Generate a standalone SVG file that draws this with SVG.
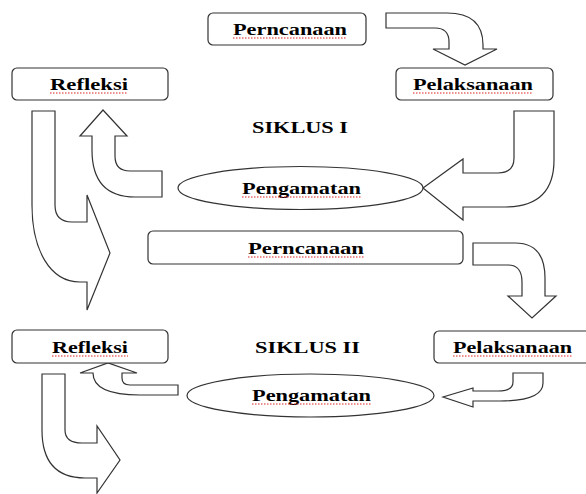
<svg xmlns="http://www.w3.org/2000/svg" width="586" height="494" viewBox="0 0 586 494">
<style>
.box{fill:#fff;stroke:#333;stroke-width:1.2}
.arr{fill:#fff;stroke:#333;stroke-width:1.2;stroke-linejoin:miter}
.t{font-family:"Liberation Serif","Times New Roman",serif;font-weight:bold;font-size:17px;fill:#000}
.sp{stroke:#d22;stroke-width:1.2;stroke-dasharray:1.5 1.5;fill:none}
</style>
<rect width="586" height="494" fill="#fff"/>
<g id="connectors">
<path class="arr" d="M386,13 L447,13 Q483,13 483,45 L483,49 L497,49 L465,65 L433,49 L449,49 L449,42 Q449,28 435,28 L386,28 Z"/>
<path class="arr" d="M514,111 L514,158 Q514,173 498,173 L463,173 L463,159 L423,188 L463,220 L463,207 L505,207 Q554,207 554,160 L554,111 Z"/>
<path class="arr" d="M162,171 L130,171 Q115,171 115,156 L115,136 L127,136 L103,110 L80,136 L92,136 L92,150 Q92,197 135,197 L162,197 Z"/>
<path class="arr" d="M32,111 L55,111 L55,205 Q55,222 72,222 L87,222 L87,195 L110,253 L87,310 L87,282 L80,282 C50,282 32,250 32,205 Z"/>
<path class="arr" d="M473,243 L515,243 Q545,243 545,278 L545,296 L556,296 L532,318 L508,296 L522,296 L522,282 Q522,265 508,265 L473,265 Z"/>
<path class="arr" d="M513,373 L513,382 Q513,391 498,391 L473,391 L473,388 L443,397 L473,407 L473,401 L500,401 Q543,401 543,383 L543,373 Z"/>
<path class="arr" d="M178,385 L130,385 Q122,385 122,378 L122,373 L137,373 L108,363 L80,373 L93,373 Q93,395 140,395 L178,395 Z"/>
<path class="arr" d="M42,374 L65,374 L65,430 Q65,443 82,443 L97,443 L97,426 L120,460 L97,493 L97,478 L85,478 C55,478 42,460 42,430 Z"/>
</g>
<g id="n-perencanaan1">
<rect class="box" x="208" y="13" width="158" height="32" rx="5"/>
<text class="t" x="233" y="35" textLength="114" lengthAdjust="spacingAndGlyphs">Perncanaan</text>
<path class="sp" d="M233,38 H347"/>
</g>
<g id="n-refleksi1">
<rect class="box" x="12" y="68" width="156" height="32" rx="5"/>
<text class="t" x="50" y="90" textLength="78" lengthAdjust="spacingAndGlyphs">Refleksi</text>
<path class="sp" d="M50,93 H128"/>
</g>
<g id="n-pelaksanaan1">
<rect class="box" x="396" y="68" width="157" height="32" rx="5"/>
<text class="t" x="413" y="90" textLength="120" lengthAdjust="spacingAndGlyphs">Pelaksanaan</text>
<path class="sp" d="M413,93 H533"/>
</g>
<g id="label-siklus1">
<text class="t" x="252" y="133" textLength="96" lengthAdjust="spacingAndGlyphs">SIKLUS I</text>
</g>
<g id="n-pengamatan1">
<ellipse class="box" cx="300.5" cy="188" rx="122.5" ry="21.5"/>
<text class="t" x="242" y="194" textLength="119" lengthAdjust="spacingAndGlyphs">Pengamatan</text>
<path class="sp" d="M242,197 H361"/>
</g>
<g id="n-perencanaan2">
<rect class="box" x="148" y="231" width="315" height="33" rx="5"/>
<text class="t" x="248" y="254" textLength="116" lengthAdjust="spacingAndGlyphs">Perncanaan</text>
<path class="sp" d="M248,257 H364"/>
</g>
<g id="n-refleksi2">
<rect class="box" x="12" y="330" width="156" height="33" rx="5"/>
<text class="t" x="52" y="353" textLength="76" lengthAdjust="spacingAndGlyphs">Refleksi</text>
<path class="sp" d="M52,356 H128"/>
</g>
<g id="label-siklus2">
<text class="t" x="255" y="353" textLength="105" lengthAdjust="spacingAndGlyphs">SIKLUS II</text>
</g>
<g id="n-pelaksanaan2">
<rect class="box" x="434" y="331" width="160" height="32" rx="5"/>
<text class="t" x="453" y="353" textLength="119" lengthAdjust="spacingAndGlyphs">Pelaksanaan</text>
<path class="sp" d="M453,356 H572"/>
</g>
<g id="n-pengamatan2">
<ellipse class="box" cx="310.5" cy="395.5" rx="123.5" ry="21.5"/>
<text class="t" x="252" y="401" textLength="119" lengthAdjust="spacingAndGlyphs">Pengamatan</text>
<path class="sp" d="M252,404 H371"/>
</g>
</svg>
